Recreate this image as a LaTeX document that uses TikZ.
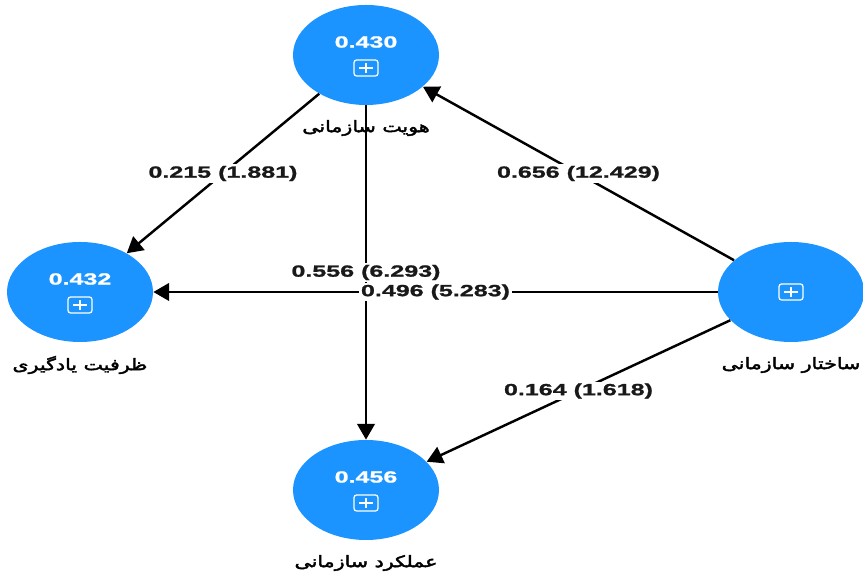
\documentclass[tikz,border=0pt]{standalone}
\usepackage{fontspec}
\setmainfont{Liberation Sans}[FakeStretch=1.55,BoldFeatures={FakeBold=1.2}]
\newfontfamily\persianfont[Script=Arabic,FakeStretch=1.3,FakeBold=2.5]{DejaVu Sans}
\TeXXeTstate=1
\usepackage{tikz}
\usetikzlibrary{arrows.meta,positioning,shapes.geometric}
\definecolor{latentblue}{RGB}{28,148,255}

\tikzset{
    latent/.style={ellipse,fill=latentblue,minimum width=2.92cm,minimum height=2cm,inner sep=0pt},
    rsq/.style={text=white,font=\fontsize{9.2}{11}\selectfont\bfseries},
    plusicon/.style={draw=white,line width=0.7pt,rounded corners=1.5pt,minimum width=0.48cm,minimum height=0.32cm,inner sep=0pt,
        path picture={\draw[white,line width=0.7pt,sharp corners]
            ([xshift=0.1cm]path picture bounding box.west) -- ([xshift=-0.1cm]path picture bounding box.east)
            ([yshift=0.06cm]path picture bounding box.south) -- ([yshift=-0.06cm]path picture bounding box.north);}},
    namelbl/.style={font=\fontsize{9}{11}\selectfont\persianfont},
    pathline/.style={-{Triangle[length=9pt,width=10pt]},line width=1.4pt},
    coef/.style={fill=white,inner sep=1pt,font=\fontsize{9.2}{11}\selectfont\bfseries,text=black!90}
}

\begin{document}
\begin{tikzpicture}
    \useasboundingbox (0,0) rectangle (17.26,11.44);

    % Latent variables
    \node[latent] (identity) at (7.32,10.34) {};
    \node[latent] (learning) at (1.60,5.60) {};
    \node[latent] (structure) at (15.82,5.60) {};
    \node[latent] (performance) at (7.32,1.64) {};

    % R squared and icons
    \node[rsq] (identityval) at ([yshift=0.26cm]identity.center) {0.430};
    \node[rsq] (learningval) at ([yshift=0.26cm]learning.center) {0.432};
    \node[rsq] (performanceval) at ([yshift=0.26cm]performance.center) {0.456};
    \node[plusicon] (identityicon) at ([yshift=-0.26cm]identity.center) {};
    \node[plusicon] (learningicon) at ([yshift=-0.26cm]learning.center) {};
    \node[plusicon] (performanceicon) at ([yshift=-0.26cm]performance.center) {};
    \node[plusicon] (structureicon) at (structure.center) {};

    % Names
    \node[namelbl] (identitylbl) at ([yshift=-1.46cm]identity.center) {\beginR هویت سازمانی\endR};
    \node[namelbl] (learninglbl) at ([yshift=-1.46cm]learning.center) {\beginR ظرفیت یادگیری\endR};
    \node[namelbl] (structurelbl) at ([yshift=-1.46cm]structure.center) {\beginR ساختار سازمانی\endR};
    \node[namelbl] (performancelbl) at ([yshift=-1.46cm]performance.center) {\beginR عملکرد سازمانی\endR};

    % Paths
    \draw[pathline] (identity) -- (learning) node[coef,pos=0.5] {0.215 (1.881)};
    \draw[pathline] (structure) -- (identity) node[coef,pos=0.5] {0.656 (12.429)};
    \draw[pathline] (identity) -- (performance) node[coef,pos=0.5] {0.556 (6.293)};
    \draw[pathline] (structure) -- (learning) node[coef,pos=0.5] {0.496 (5.283)};
    \draw[pathline] (structure) -- (performance) node[coef,pos=0.5] {0.164 (1.618)};
\end{tikzpicture}
\end{document}
